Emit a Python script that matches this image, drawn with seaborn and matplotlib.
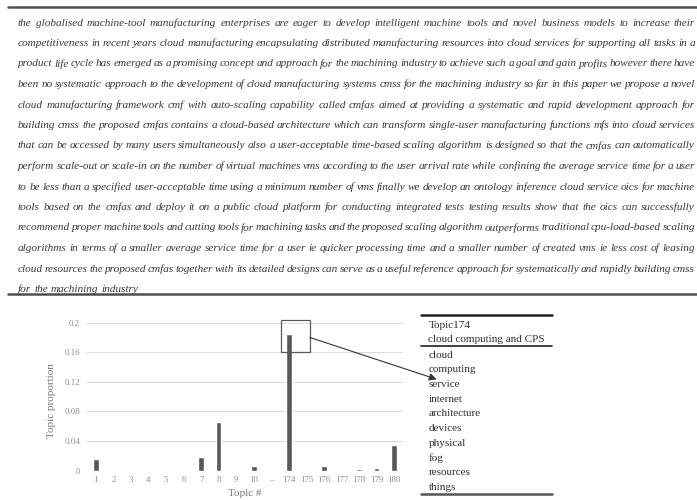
import matplotlib
matplotlib.use("Agg")
import matplotlib.pyplot as plt
from matplotlib.lines import Line2D
from matplotlib.patches import Rectangle
import seaborn as sns
import pandas as pd

# ---- data -------------------------------------------------------------
abstract_lines = [
    "the globalised machine-tool manufacturing enterprises are eager to develop intelligent machine tools and novel business models to increase their",
    "competitiveness in recent years cloud manufacturing encapsulating distributed manufacturing resources into cloud services for supporting all tasks in a",
    "product life cycle has emerged as a promising concept and approach for the machining industry to achieve such a goal and gain profits however there have",
    "been no systematic approach to the development of cloud manufacturing systems cmss for the machining industry so far in this paper we propose a novel",
    "cloud manufacturing framework cmf with auto-scaling capability called cmfas aimed at providing a systematic and rapid development approach for",
    "building cmss the proposed cmfas contains a cloud-based architecture which can transform single-user manufacturing functions mfs into cloud services",
    "that can be accessed by many users simultaneously also a user-acceptable time-based scaling algorithm is designed so that the cmfas can automatically",
    "perform scale-out or scale-in on the number of virtual machines vms according to the user arrival rate while confining the average service time for a user",
    "to be less than a specified user-acceptable time using a minimum number of vms finally we develop an ontology inference cloud service oics for machine",
    "tools based on the cmfas and deploy it on a public cloud platform for conducting integrated tests testing results show that the oics can successfully",
    "recommend proper machine tools and cutting tools for machining tasks and the proposed scaling algorithm outperforms traditional cpu-load-based scaling",
    "algorithms in terms of a smaller average service time for a user ie quicker processing time and a smaller number of created vms ie less cost of leasing",
    "cloud resources the proposed cmfas together with its detailed designs can serve as a useful reference approach for systematically and rapidly building cmss",
    "for the machining industry",
]

topics = ["1", "2", "3", "4", "5", "6", "7", "8", "9", "10", "\u2013",
          "174", "175", "176", "177", "178", "179", "180"]
proportions = [0.0155, 0.001, 0.0005, 0.001, 0.0005, 0.0005, 0.018, 0.066, 0.001, 0.006, 0.0,
               0.185, 0.001, 0.006, 0.0005, 0.002, 0.003, 0.034]

y_ticks = [0, 0.04, 0.08, 0.12, 0.16, 0.2]
y_tick_labels = ["0", "0.04", "0.08", "0.12", "0.16", "0.2"]

topic_title = "Topic174"
topic_name = "cloud computing and CPS"
topic_words = ["cloud", "computing", "service", "internet", "architecture",
               "devices", "physical", "fog", "resources", "things"]
highlight_topic = "174"

# ---- figure -----------------------------------------------------------
sns.set_style("white")
plt.rcParams["font.family"] = ["Liberation Serif", "DejaVu Serif"]

W, H = 697, 500
fig = plt.figure(figsize=(W / 100, H / 100), dpi=100)
fig.patch.set_facecolor("white")
renderer = fig.canvas.get_renderer()


def fx(px):
    return px / W


def fy(py):
    return 1 - py / H


# ---- justified abstract paragraph ------------------------------------
para_size = 8.1
para_color = "#383838"
left_px, right_px = 18, 695
for i, line in enumerate(abstract_lines):
    y = fy(23 + i * 20.5)
    words = line.split()
    texts = [fig.text(0, y, w, fontsize=para_size, style="italic", color=para_color,
                      va="center", ha="left") for w in words]
    widths = [t.get_window_extent(renderer).width for t in texts]
    if i < len(abstract_lines) - 1 and len(words) > 1:
        gap = (right_px - left_px - sum(widths)) / (len(words) - 1)
    else:
        gap = para_size * 100 / 72 * 0.27
    x = left_px
    for t, w in zip(texts, widths):
        t.set_x(fx(x))
        x += w + gap

rule_color = "#505050"
fig.add_artist(Line2D([fx(8), 1], [fy(7.3), fy(7.3)], transform=fig.transFigure,
                      color=rule_color, lw=1.8))
fig.add_artist(Line2D([fx(8), 1], [fy(294.3), fy(294.3)], transform=fig.transFigure,
                      color=rule_color, lw=1.8))

# ---- bar chart ----------------------------------------------------------
ax_left, ax_right, ax_top, ax_bottom = 87, 403, 322.7, 470.5
ax = fig.add_axes([fx(ax_left), fy(ax_bottom), fx(ax_right - ax_left),
                   (ax_bottom - ax_top) / H])

df = pd.DataFrame({"topic": topics, "proportion": proportions})
sns.barplot(data=df, x="topic", y="proportion", order=topics, color="#585858",
            saturation=1, width=0.32, errorbar=None, ax=ax)

ax.set_ylim(0, 0.2)
ax.set_xlim(-0.5, len(topics) - 0.5)
ax.set_yticks(y_ticks)
ax.set_yticklabels(y_tick_labels)
ax.yaxis.grid(True, color="#dadada", lw=0.8)
ax.set_axisbelow(True)
for s in ax.spines.values():
    s.set_visible(False)
ax.tick_params(axis="both", length=0, labelsize=6.3, labelcolor="#8a8a8a")
ax.tick_params(axis="y", pad=5)
ax.tick_params(axis="x", pad=4)

ax.set_xlabel("Topic #", fontsize=8, color="#777777", va="center")
ax.set_ylabel("Topic proportion", fontsize=8, color="#777777", va="center")
ax.xaxis.set_label_coords(0.5, -(493.3 - ax_bottom) / (ax_bottom - ax_top))
ax.yaxis.set_label_coords(-(ax_left - 51.7) / (ax_right - ax_left), 0.47)

# highlight box around the dominant topic and arrow to its word list
hi = topics.index(highlight_topic)
box = Rectangle((hi - 0.45, 0.1605), 1.65, 0.043, fill=False, edgecolor="#5a5a5a",
                lw=0.9, clip_on=False)
ax.add_patch(box)
ax.annotate("", xy=(fx(436.7), fy(379.3)), xycoords="figure fraction",
            xytext=(hi + 1.2, 0.180), textcoords="data",
            arrowprops=dict(arrowstyle="-|>", color="#333333", lw=0.8,
                            mutation_scale=11, shrinkA=0, shrinkB=0))

# ---- topic word table -------------------------------------------------------
tab_x0, tab_x1 = 421, 552
tab_text_x = 428.5
tab_color = "#2e2e2e"
fig.add_artist(Line2D([fx(tab_x0), fx(tab_x1)], [fy(315), fy(315)],
                      transform=fig.transFigure, color="#222222", lw=1.8))
fig.add_artist(Line2D([fx(tab_x0), fx(tab_x1)], [fy(345.8), fy(345.8)],
                      transform=fig.transFigure, color="#222222", lw=1.2))
fig.add_artist(Line2D([fx(tab_x0), fx(tab_x1)], [fy(493.5), fy(493.5)],
                      transform=fig.transFigure, color="#555555", lw=1.8))
fig.text(fx(tab_text_x), fy(325), topic_title, fontsize=8, color=tab_color,
         va="center", ha="left")
fig.text(fx(tab_text_x), fy(339.5), topic_name, fontsize=8, color=tab_color,
         va="center", ha="left")
for k, word in enumerate(topic_words):
    fig.text(fx(tab_text_x), fy(355 + k * 14.7), word, fontsize=8, color=tab_color,
             va="center", ha="left")

fig.savefig("out.png", dpi=100)
